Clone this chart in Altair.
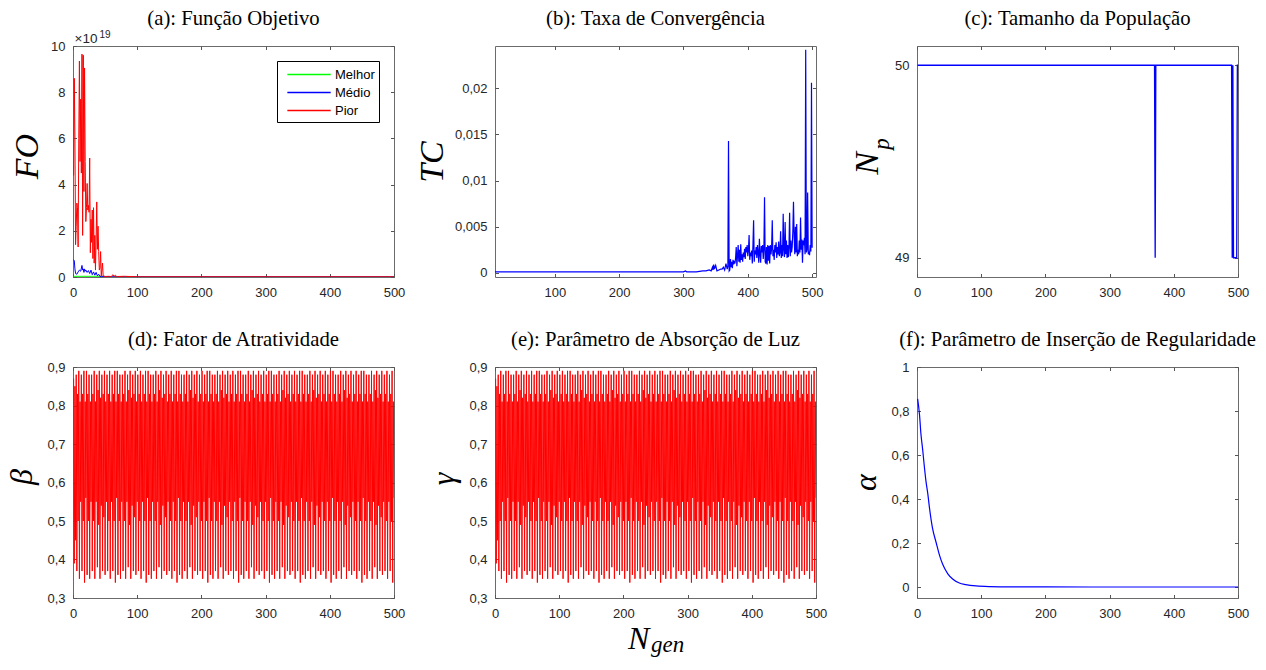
import altair as alt
import pandas as pd

W, H = 321, 231
HSP, VSP = 101, 90

SANS = "Liberation Sans"
SERIF = "Liberation Serif"
TICK = "#555555"
LAB = "#262626"
BOX = "#6b6b6b"

# ---------------- (a) Função Objetivo  (valores x 1e19) ----------------
fo_pior_gen = list(range(1, 48)) + [48, 50, 55, 60, 62, 64, 66, 68, 80, 100, 500]
fo_pior = [4.4, 8.6, 6.0, 1.4, 2.2, 3.2, 3.0, 1.3, 6.0, 9.35, 5.0, 7.7, 4.5, 9.65, 1.8, 9.6,
           3.7, 9.05, 5.0, 2.4, 3.0, 4.05, 2.9, 3.1, 2.8, 5.15, 1.05, 2.5, 1.5, 2.9, 0.8, 3.0,
           0.6, 1.8, 0.3, 1.6, 3.25, 1.2, 2.2, 1.1, 0.3, 0.4, 1.1, 0.05, 0.3, 0.6, 0.03,
           0.05, 0.02, 0.03, 0.02, 0.1, 0.03, 0.08, 0.02, 0.03, 0.01, 0.01]
fo_medio_gen = [1, 2, 3, 4, 6, 8, 10, 12, 14, 15, 16, 17, 18, 19, 20, 22, 24, 26, 28, 30, 32,
                34, 36, 38, 40, 42, 45, 50, 500]
fo_medio = [0.75, 0.7, 0.35, 0.15, 0.12, 0.22, 0.3, 0.25, 0.5, 0.3, 0.35, 0.2, 0.35, 0.25,
            0.3, 0.2, 0.28, 0.15, 0.3, 0.1, 0.22, 0.08, 0.2, 0.05, 0.12, 0.02, 0.03, 0.01, 0.01]
fo_melhor_gen = [1, 45, 47, 500]
fo_melhor = [0.03, 0.03, 0.0, 0.0]
series_names = ["Melhor", "Médio", "Pior"]
series_colors = ["#00ff00", "#0000ff", "#ff0000"]

# ---------------- (b) Taxa de Convergência ----------------
tc_gen_a = [7, 100, 200, 300, 303, 305, 308, 320, 330, 335, 340, 343, 345, 346, 347, 348,
            350, 352, 355, 358, 360, 362, 364, 366, 368, 369, 370, 371]
tc_val_a = [0.0001, 0.0001, 0.0001, 0.0001, 0.0002, 0.0001, 0.0001, 0.0001, 0.0002, 0.0002,
            0.0003, 0.0002, 0.0006, 0.0003, 0.0009, 0.0004, 0.0008, 0.0002, 0.0003, 0.0004,
            0.0004, 0.0006, 0.0003, 0.001, 0.0004, 0.0007, 0.0143, 0.0002]
# gerações 372..500, valores em milésimos
tc_gen_b = list(range(372, 501))
tc_milli_b = [0.3, 1.5, 0.6, 1.2, 0.5, 1.4, 0.9, 1.3, 1.0, 1.6, 2.8, 0.7, 1.9, 3.0, 1.2, 2.5,
              1.1, 3.1, 1.4, 2.0, 1.2, 2.2, 1.7, 2.6, 1.5, 2.8, 2.2, 3.0, 1.8, 2.5, 4.1, 1.4,
              2.2, 1.8, 2.4, 1.0, 3.0, 5.7, 1.2, 2.4, 2.0, 2.8, 1.6, 3.0, 2.2, 1.1, 3.7, 2.0,
              1.1, 2.9, 2.2, 3.0, 1.5, 2.6, 8.2, 1.2, 1.0, 2.8, 0.9, 3.0, 1.3, 2.9, 1.0, 3.0,
              2.0, 2.6, 5.7, 1.8, 2.5, 1.4, 3.0, 2.2, 3.3, 1.6, 2.8, 2.0, 3.4, 1.8, 2.2, 4.5,
              1.6, 3.0, 1.8, 6.4, 2.5, 1.7, 5.5, 2.0, 3.5, 1.6, 3.0, 1.7, 2.8, 6.5, 1.8, 3.5,
              2.2, 2.8, 4.5, 7.7, 4.0, 2.0, 5.0, 2.2, 5.3, 1.8, 2.5, 2.0, 3.5, 2.2, 6.0, 2.5,
              3.6, 1.1, 3.5, 3.0, 3.8, 2.0, 24.2, 2.2, 2.5, 8.7, 2.0, 2.3, 1.9, 3.0, 2.3, 20.6,
              2.7]

# ---------------- (c) Tamanho da População ----------------
np_gen = [1, 370, 371, 372, 490, 491, 492, 493, 498, 499, 500]
np_val = [50, 50, 49, 50, 50, 49, 50, 49, 49, 50, 50]

# ---------------- (d)/(e) Fator de atratividade / absorção (x 0.01) ----------------
beta_txt = """
87 39 85 45
88 37 83 50 89 35 81 55
88 37 83 50 89 34 81 56
89 36 83 50 88 35 81 55
88 37 83 50 89 35 81 55
88 38 84 49 89 35 82 54
88 37 83 51 89 36 81 55
88 37 83 50 89 35 81 55
88 37 83 50 89 34 81 56
89 36 83 50 88 35 81 55
88 37 83 50 89 35 81 55
88 38 84 49 89 35 82 54
88 37 83 51 89 36 81 55
88 37 83 50 89 35 81 55
88 37 83 50 89 34 81 56
89 36 83 50 88 35 81 55
88 37 83 50 89 35 81 55
88 38 84 49 89 35 82 54
88 37 83 51 89 36 81 55
88 37 83 50 89 35 81 55
88 37 83 50 89 34 81 56
89 36 83 50 88 35 81 55
88 37 83 50 89 35 81 55
88 38 84 49 89 35 82 54
88 37 83 51 89 36 81 55
88 37 83 50 89 35 81 55
88 37 83 50 89 34 81 56
89 36 83 50 88 35 81 55
88 37 83 50 89 35 81 55
88 38 84 49 89 35 82 54
88 37 83 51 89 36 81 55
88 37 83 50 89 35 81 55
88 37 83 50 89 34 81 56
89 36 83 50 88 35 81 55
88 37 83 50 89 35 81 55
88 38 84 49 89 35 82 54
88 37 83 51 89 36 81 55
88 37 83 50 89 35 81 55
88 37 83 50 89 34 81 56
89 36 83 50 88 35 81 55
88 37 83 50 89 35 81 55
88 38 84 49 89 35 82 54
88 37 83 51 89 36 81 55
88 37 83 50 89 35 81 55
88 37 83 50 89 34 81 56
89 36 83 50 88 35 81 55
88 37 83 50 89 35 81 55
88 38 84 49 89 35 82 54
88 37 83 51 89 36 81 55
88 37 83 50 89 35 81 55
88 37 83 50 89 34 81 56
89 36 83 50 88 35 81 55
88 37 83 50 89 35 81 55
88 38 84 49 89 35 82 54
88 37 83 51 89 36 81 55
88 37 83 50 89 35 81 55
88 37 83 50 89 34 81 56
89 36 83 50 88 35 81 55
88 37 83 50 89 35 81 55
88 38 84 49 89 35 82 54
88 37 83 51 89 36 81 55
88 37 83 50 89 35 81 55
88 37 83 50 89 34 81 56
"""
beta_vals = [int(t) / 100 for t in beta_txt.split()]
gamma_vals = list(beta_vals)

# ---------------- (f) Parâmetro de inserção de regularidade ----------------
alpha_gen = [1, 4, 6, 9, 11, 14, 17, 19, 24, 30, 35, 40, 48, 56, 66, 76, 92, 113, 150, 200,
             300, 400, 500]
alpha_val = [0.855, 0.78, 0.70, 0.62, 0.56, 0.48, 0.42, 0.37, 0.27, 0.20, 0.145, 0.103, 0.06,
             0.035, 0.018, 0.011, 0.005, 0.002, 0.0005, 0.0002, 0.0, 0.0, 0.0]


def ax(orient, values, labels=True, expr=None):
    kw = dict(orient=orient, values=values, domain=False, grid=False, ticks=True,
              tickSize=3.5, tickWidth=1, tickColor=TICK, offset=-3.5, title=None,
              labels=labels)
    if labels:
        kw.update(labelFont=SANS, labelFontSize=13, labelColor=LAB, labelFlush=False,
                  labelOverlap=False, labelPadding=9 if orient == "bottom" else 8)
        if expr:
            kw["labelExpr"] = expr
    return alt.Axis(**kw)


def enc(xs, ys, xvals, yvals, yexpr=None, mirror=False):
    if mirror:
        return dict(x=alt.X("g:Q", scale=xs, axis=ax("top", xvals, labels=False)),
                    y=alt.Y("v:Q", scale=ys, axis=ax("right", yvals, labels=False)))
    return dict(x=alt.X("g:Q", scale=xs, axis=ax("bottom", xvals)),
                y=alt.Y("v:Q", scale=ys, axis=ax("left", yvals, expr=yexpr)))


def txt(s, x, y, size, font=SERIF, style="normal", angle=0, align="center",
        baseline="alphabetic", color="black"):
    return alt.Chart(pd.DataFrame({"s": [s]})).mark_text(
        text=s, font=font, fontSize=size, fontStyle=style, angle=angle, align=align,
        baseline=baseline, color=color).encode(x=alt.value(x), y=alt.value(y))


def simple_panel(df, xdom, ydom, xvals, yvals, yexpr, color, sw, texts, interp="linear"):
    xs = alt.Scale(domain=xdom, nice=False, zero=False)
    ys = alt.Scale(domain=ydom, nice=False, zero=False)
    line = alt.Chart(df).mark_line(color=color, strokeWidth=sw, interpolate=interp,
                                   clip=True).encode(**enc(xs, ys, xvals, yvals, yexpr))
    mirror = alt.Chart(df).mark_line(opacity=0).encode(**enc(xs, ys, xvals, yvals, mirror=True))
    return alt.layer(line, mirror, *texts).properties(width=W, height=H)


XV = [0, 100, 200, 300, 400, 500]
DEC = "replace(format(datum.value, '~g'), '.', ',')"
DEC1 = "replace(format(datum.value, '.1f'), '.', ',')"
INT = "format(datum.value, 'd')"
TY = -21
TS = 20.7
LS = 34
GS = 32

# (a)
dfa = pd.DataFrame({
    "g": fo_melhor_gen + fo_medio_gen + fo_pior_gen,
    "v": fo_melhor + fo_medio + fo_pior,
    "s": ["Melhor"] * len(fo_melhor) + ["Médio"] * len(fo_medio) + ["Pior"] * len(fo_pior),
})
xs_a = alt.Scale(domain=[0, 500], nice=False, zero=False)
ys_a = alt.Scale(domain=[0, 10], nice=False, zero=False)
lines_a = alt.Chart(dfa).mark_line(strokeWidth=1, clip=True).encode(
    **enc(xs_a, ys_a, XV, [0, 2, 4, 6, 8, 10], INT),
    color=alt.Color("s:N", scale=alt.Scale(domain=series_names, range=series_colors),
                    sort=series_names,
                    legend=alt.Legend(orient="none", legendX=204, legendY=15, title=None,
                                      symbolType="M-0.37,0L4.73,0", symbolSize=289,
                                      symbolStrokeWidth=1.5, labelFont=SANS, labelFontSize=13,
                                      labelColor="black", labelOffset=35, padding=4,
                                      strokeColor="black", fillColor="white", rowPadding=1)),
)
mirror_a = alt.Chart(dfa).mark_line(opacity=0).encode(
    **enc(xs_a, ys_a, XV, [0, 2, 4, 6, 8, 10], mirror=True))
pa = alt.layer(
    lines_a, mirror_a,
    txt("(a): Função Objetivo", W / 2, TY, TS),
    txt("FO", -35.3, 110.7, LS, style="italic", angle=270),
    txt("×10", 1.5, -2.6, 13.5, font=SANS, align="left", color=LAB),
    txt("19", 26.5, -8.5, 10, font=SANS, align="left", color=LAB),
).properties(width=W, height=H)

# (b)
dfb = pd.DataFrame({"g": tc_gen_a + tc_gen_b,
                    "v": tc_val_a + [m / 1000 for m in tc_milli_b]})
pb = simple_panel(dfb, [7, 506], [-0.00046, 0.0246], [100, 200, 300, 400, 500],
                  [0, 0.005, 0.01, 0.015, 0.02], DEC, "#0000ff", 1.2,
                  [txt("(b): Taxa de Convergência", W / 2, TY, TS),
                   txt("TC", -52, 116, LS, style="italic", angle=270)])

# (c)
dfc = pd.DataFrame({"g": np_gen, "v": np_val})
pc = simple_panel(dfc, [0, 500], [48.9, 50.1], XV, [49, 50], INT, "#0000ff", 1.3,
                  [txt("(c): Tamanho da População", W / 2, TY, TS),
                   txt("N", -38.7, 117.5, LS, style="italic", angle=270),
                   txt("p", -28, 98, 23, style="italic", angle=270)])

# (d)
gens = list(range(1, len(beta_vals) + 1))
dfd = pd.DataFrame({"g": gens, "v": beta_vals})
pd_ = simple_panel(dfd, [0, 500], [0.3, 0.9], XV, [0.3, 0.4, 0.5, 0.6, 0.7, 0.8, 0.9], DEC1,
                   "#ff0000", 1,
                   [txt("(d): Fator de Atratividade", W / 2, TY, TS),
                    txt("β", -41, 110, GS, style="italic", angle=270)])

# (e)
dfe = pd.DataFrame({"g": list(range(1, len(gamma_vals) + 1)), "v": gamma_vals})
pe = simple_panel(dfe, [0, 500], [0.3, 0.9], XV, [0.3, 0.4, 0.5, 0.6, 0.7, 0.8, 0.9], DEC1,
                  "#ff0000", 1,
                  [txt("(e): Parâmetro de Absorção de Luz", W / 2, TY, TS),
                   txt("γ", -41.2, 112, GS, style="italic", angle=270),
                   txt("N", 133, 281.5, 32, style="italic", align="left"),
                   txt("gen", 156, 284.5, 23, style="italic", align="left")])

# (f)
dff = pd.DataFrame({"g": alpha_gen, "v": alpha_val})
pf = simple_panel(dff, [0, 500], [-0.05, 1], XV, [0, 0.2, 0.4, 0.6, 0.8, 1], DEC,
                  "#0000ff", 1.2,
                  [txt("(f): Parâmetro de Inserção de Regularidade", W / 2, TY, TS),
                   txt("α", -40.7, 115.7, GS, style="italic", angle=270)],
                  interp="monotone")

chart = alt.concat(pa, pb, pc, pd_, pe, pf, columns=3,
                   spacing={"row": VSP, "column": HSP}, bounds="flush").properties(
    padding={"left": -3, "top": -1, "right": 0, "bottom": 0}
).configure_view(stroke=BOX, strokeWidth=1)

chart.save("out.html", embed_options={"renderer": "svg", "actions": False})
